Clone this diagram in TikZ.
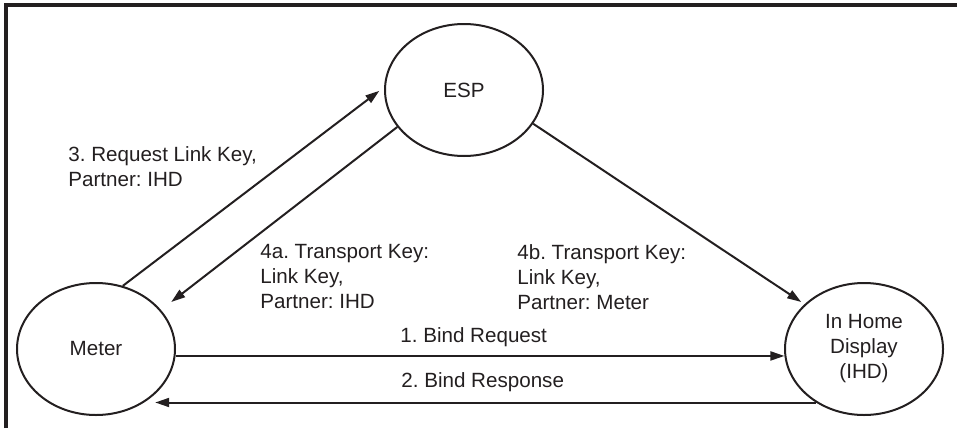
\documentclass[tikz,border=0pt]{standalone}
\usepackage{fontspec}
\setmainfont{Liberation Sans}
\usepackage{tikz}
\usetikzlibrary{shapes.geometric,arrows.meta}
\definecolor{InkGray}{RGB}{35,31,32}
\frenchspacing
\tikzset{
	dev/.style={ellipse,draw=InkGray,line width=1pt,minimum width=79pt,minimum height=66pt,
		inner sep=0pt,align=center,text=InkGray},
	msg/.style={draw=InkGray,line width=1pt,-{Triangle[length=7pt,width=4.5pt]}},
	note/.style={anchor=west,align=left,inner sep=0pt,text=InkGray},
	frame/.style={draw=InkGray,line width=2pt},
}

\begin{document}
\begin{tikzpicture}[x=0.5pt,y=-0.5pt,font=\fontsize{10.3}{12.5}\selectfont]
	\useasboundingbox (0,0) rectangle (957,428);
	\draw[frame] (6,428) -- (6,5) -- (957,5);
	% the three devices
	\node[dev] (esp) at (464,90) {ESP};
	\node[dev] (meter) at (96,349) {Meter};
	\node[dev] (ihd) at (864,349) {In Home\\Display\\(IHD)};
	% messages
	\draw[msg] (meter.-5) -- (ihd.185);
	\draw[msg,shorten >=5pt] (ihd.228) -- (ihd.228 -| meter.-47);
	\draw[msg,shorten >=3pt] (meter.67.6) -- (esp.178.6);
	\draw[msg,shorten >=6.5pt] (esp.209.3) -- (meter.31.5);
	\draw[msg,shorten >=2pt] (esp.-26.6) -- (ihd.143.4);
	% labels
	\node[note] (l1) at (400,337) {1. Bind Request};
	\node[note] (l2) at (401,382) {2. Bind Response};
	\node[note] (l3) at (68,167) {3. Request Link Key,\\Partner: IHD};
	\node[note] (l4a) at (260,277) {4a. Transport Key:\\Link Key,\\Partner: IHD};
	\node[note] (l4b) at (517,277) {4b. Transport Key:\\Link Key,\\Partner: Meter};
\end{tikzpicture}
\end{document}
